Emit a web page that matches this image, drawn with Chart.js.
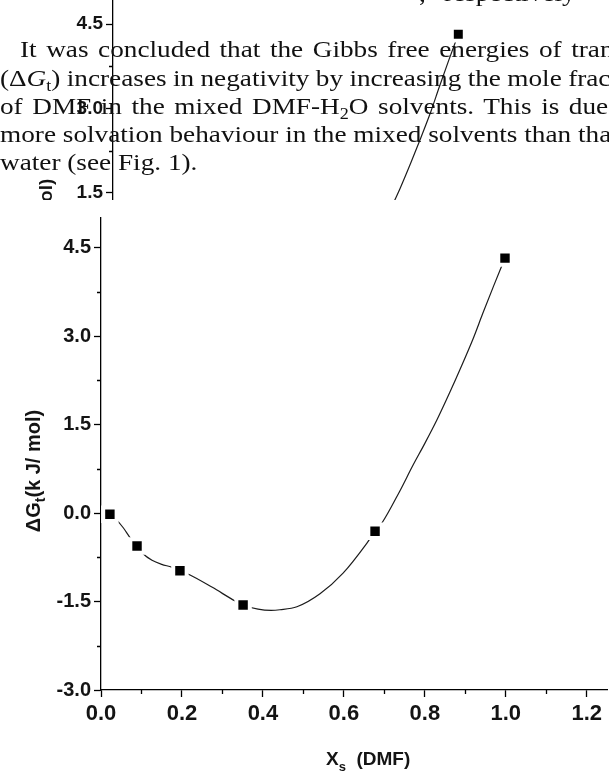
<!DOCTYPE html>
<html>
<head>
<meta charset="utf-8">
<script src="https://cdn.jsdelivr.net/npm/chart.js@4.4.1/dist/chart.umd.min.js"></script>
<style>
  html, body { margin: 0; padding: 0; background: #fff; }
  body { width: 609px; height: 773px; position: relative; overflow: hidden; }
  #ghost { position: absolute; left: 0; top: -30px; }
  #main { position: absolute; left: 0; top: 200px; background: #fff; }
  .t { position: absolute; font-family: "Liberation Serif", serif; font-size: 24px; line-height: 24px; color: #111;
       white-space: pre; transform: scaleX(1.135); transform-origin: 0 0; }
  .sb { font-size: 16px; position: relative; top: 5px; }
</style>
</head>
<body>
<canvas id="ghost" width="609" height="540"></canvas>

<div class="t" style="top:-19px;left:419px;word-spacing:10px">, respectively</div>
<div class="t" style="top:37px;left:20px;word-spacing:2.4px">It was concluded that the Gibbs free energies of tran</div>
<div class="t" style="top:66px;left:0;word-spacing:-0.4px">(&Delta;<i>G</i><span class="sb">t</span>) increases in negativity by increasing the mole frac</div>
<div class="t" style="top:94px;left:0;word-spacing:2.4px">of DMF in the mixed DMF-H<span class="sb">2</span>O solvents. This is due</div>
<div class="t" style="top:122px;left:0">more solvation behaviour in the mixed solvents than tha</div>
<div class="t" style="top:150px;left:0">water (see Fig. 1).</div>

<canvas id="main" width="609" height="573"></canvas>

<script>
// measured points (mole fraction of DMF, dG_t in kJ/mol)
const xValues = [0.022, 0.089, 0.195, 0.351, 0.677, 0.998]
const dgValues = [-0.02, -0.56, -0.98, -1.56, -0.31, 4.32]

// smooth fitted curve
const fitX = [0.022, 0.035, 0.055, 0.072, 0.089, 0.104, 0.126, 0.150, 0.175, 0.195, 0.220, 0.275,
              0.331, 0.351, 0.388, 0.420, 0.442, 0.484, 0.541, 0.598, 0.657, 0.677, 0.694, 0.738,
              0.770, 0.800, 0.830, 0.862, 0.886, 0.919, 0.943, 0.970, 0.998]
const fitY = [-0.02, -0.09, -0.25, -0.42, -0.56, -0.69, -0.80, -0.87, -0.92, -0.98, -1.05, -1.26,
              -1.49, -1.56, -1.63, -1.65, -1.64, -1.59, -1.37, -1.02, -0.51, -0.31, -0.17, 0.37,
              0.80, 1.18, 1.58, 2.05, 2.42, 2.95, 3.38, 3.85, 4.32]

const xTicks = [0.0, 0.2, 0.4, 0.6, 0.8, 1.0, 1.2]
const yTicks = [-3.0, -1.5, 0.0, 1.5, 3.0, 4.5]

const ink = "#141414"
const sans = "'Liberation Sans', Arial, sans-serif"

const minorTicks = {
  id: "minorTicks",
  afterDraw(chart, args, o) {
    const ctx = chart.ctx
    const xs = chart.scales.x, ys = chart.scales.y
    ctx.save()
    ctx.strokeStyle = "#000"
    ctx.lineWidth = 1.3
    ctx.beginPath()
    for (let i = 0; i < xTicks.length - 1; i++) {
      const px = Math.round(xs.getPixelForValue((xTicks[i] + xTicks[i + 1]) / 2)) + 0.5
      ctx.moveTo(px, xs.top)
      ctx.lineTo(px, xs.top + o.len)
    }
    for (let i = 0; i < yTicks.length - 1; i++) {
      const py = Math.round(ys.getPixelForValue((yTicks[i] + yTicks[i + 1]) / 2)) + 0.5
      ctx.moveTo(ys.right, py)
      ctx.lineTo(ys.right - o.len, py)
    }
    ctx.stroke()
    ctx.restore()
  }
}

// draws text pieces in a row, some of them smaller and lowered (subscripts)
function drawParts(ctx, parts, x0, y0) {
  let x = x0
  parts.forEach(p => {
    ctx.font = "bold " + p.size + "px " + sans
    ctx.fillText(p.t, x, y0 + (p.dy || 0))
    x += ctx.measureText(p.t).width
  })
}
function partsWidth(ctx, parts) {
  let w = 0
  parts.forEach(p => {
    ctx.font = "bold " + p.size + "px " + sans
    w += ctx.measureText(p.t).width
  })
  return w
}

const axisTitles = {
  id: "axisTitles",
  afterDraw(chart, args, o) {
    const ctx = chart.ctx
    const a = chart.chartArea
    const f = o.f
    ctx.save()
    ctx.fillStyle = ink
    ctx.textBaseline = "alphabetic"
    ctx.textAlign = "left"

    const yParts = [
      { t: "\u0394G", size: 20 * f },
      { t: "t", size: 14 * f, dy: 5 * f },
      { t: "(k J/ mol)", size: 20 * f }
    ]
    ctx.translate(o.yTitleX, (a.top + a.bottom) / 2 + o.yTitleShift)
    ctx.rotate(-Math.PI / 2)
    drawParts(ctx, yParts, -partsWidth(ctx, yParts) / 2, 7 * f)
    ctx.setTransform(1, 0, 0, 1, 0, 0)

    const xParts = [
      { t: "X", size: 19 * f },
      { t: "s", size: 13 * f, dy: 6 * f },
      { t: "  (DMF)", size: 19 * f }
    ]
    drawParts(ctx, xParts, o.xTitleLeft, o.xTitleY)
    ctx.restore()
  }
}

function createChart(canvas, g) {
  const markers = xValues.map((x, i) => ({ x: x, y: dgValues[i] }))
  const fit = fitX.map((x, i) => ({ x: x, y: fitY[i] }))
  return new Chart(canvas, {
    type: "scatter",
    data: {
      datasets: [{
        type: "line",
        data: fit,
        borderColor: "#1c1c1c",
        borderWidth: 1.2,
        pointRadius: 0,
        cubicInterpolationMode: "monotone",
        order: 2
      }, {
        data: markers,
        pointStyle: "rect",
        pointRadius: 9.5 * g.f,
        pointBackgroundColor: "#000",
        pointBorderColor: "#fff",
        pointBorderWidth: 4 * g.f,
        order: 1
      }]
    },
    options: {
      responsive: false,
      animation: false,
      events: [],
      layout: { autoPadding: false, padding: { top: g.top, right: g.right, left: 0, bottom: 0 } },
      plugins: {
        legend: { display: false },
        tooltip: { enabled: false },
        minorTicks: { len: 4 },
        axisTitles: { f: g.f, yTitleX: g.yTitleX, yTitleShift: 17 * g.f, xTitleY: g.xTitleY, xTitleLeft: g.xTitleLeft }
      },
      scales: {
        x: {
          type: "linear",
          min: 0,
          max: 1.25,
          z: 1,
          afterBuildTicks: s => { s.ticks = xTicks.map(v => ({ value: v })) },
          afterFit: s => { s.height = g.xHeight; s.paddingLeft = 0; s.paddingRight = 0 },
          ticks: {
            color: ink,
            font: { family: sans, size: 22 * g.f, weight: "bold" },
            padding: 4,
            maxRotation: 0,
            callback: v => v.toFixed(1)
          },
          grid: { drawOnChartArea: false, drawTicks: true, tickLength: 7, tickColor: "#000", tickWidth: 1.3 },
          border: { color: "#000", width: 1.3 }
        },
        y: {
          type: "linear",
          min: -3,
          max: 5,
          z: 1,
          afterBuildTicks: s => { s.ticks = yTicks.map(v => ({ value: v })) },
          afterFit: s => { s.width = g.yWidth },
          ticks: {
            color: ink,
            font: { family: sans, size: 20 * g.f, weight: "bold" },
            padding: 3,
            callback: v => v.toFixed(1)
          },
          grid: { drawOnChartArea: false, drawTicks: true, tickLength: 7, tickColor: "#000", tickWidth: 1.3 },
          border: { color: "#000", width: 1.3 }
        }
      }
    },
    plugins: [minorTicks, axisTitles]
  })
}

// faint copy of the figure behind the text at the top of the page
createChart(document.getElementById("ghost"), {
  f: 0.95, top: 26, right: 63.5, yWidth: 113, xHeight: 64.5, yTitleX: 45, xTitleY: 530, xTitleLeft: 300
})
// the figure itself
createChart(document.getElementById("main"), {
  f: 1, top: 18, right: 2, yWidth: 101, xHeight: 83, yTitleX: 33, xTitleY: 565, xTitleLeft: 326
})
</script>
</body>
</html>
